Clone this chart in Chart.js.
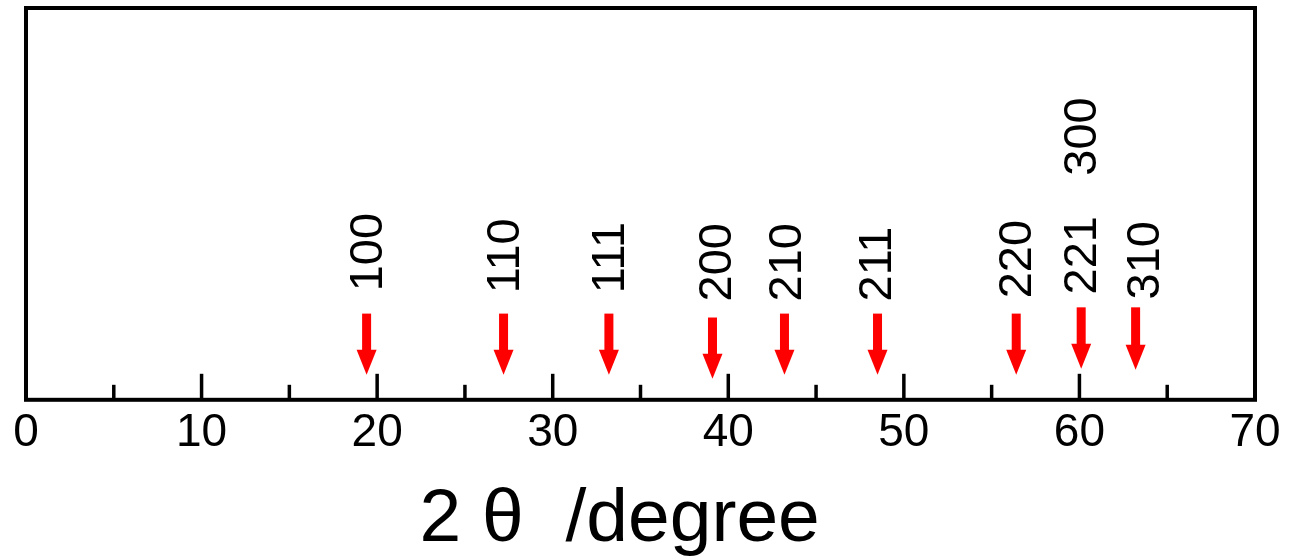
<!DOCTYPE html>
<html>
<head>
<meta charset="utf-8">
<script src="https://cdn.jsdelivr.net/npm/chart.js@4"></script>
<style>
  html, body { margin: 0; padding: 0; background: #fff; }
  #wrap { width: 1291px; height: 558px; }
</style>
</head>
<body>
<div id="wrap"><canvas id="xrdChart"></canvas></div>
<script>
// peak positions (2 theta) and arrow extents (y in % of plot height)
const peakPos = [19.4, 27.2, 33.2, 39.1, 43.2, 48.5, 56.4, 60.1, 63.2];
const arrowTop = [22, 22, 22, 21, 22, 22, 22, 23.6, 23.6];
const arrowTip = [6.4, 6.4, 6.4, 5.4, 6.4, 6.4, 6.4, 7.9, 7.7];

// Miller index labels
const hklText = ['100', '110', '111', '200', '210', '211', '220', '221', '300', '310'];
const hklX = [19.4, 27.2, 33.2, 39.3, 43.3, 48.4, 56.4, 60.1, 60.1, 63.7];
const hklY = [27.7, 27.2, 27.2, 25.1, 25.1, 25.1, 25.9, 26.9, 57.2, 25.6];

const xTicks = [0, 10, 20, 30, 40, 50, 60, 70];

const FONT = '"Liberation Sans", Arial, Helvetica, sans-serif';

const xrdPlugin = {
  id: 'xrdDecor',
  afterDraw(chart) {
    const ctx = chart.ctx;
    const area = chart.chartArea;
    const xs = chart.scales.x;
    const ys = chart.scales.y;
    ctx.save();

    // frame
    ctx.strokeStyle = '#000';
    ctx.lineWidth = 4;
    ctx.strokeRect(area.left, area.top, area.right - area.left, area.bottom - area.top);

    // inward ticks, long at 10s, short at 5s
    ctx.lineWidth = 3.5;
    for (let v = 5; v < 70; v += 5) {
      const px = xs.getPixelForValue(v);
      const len = v % 10 === 0 ? 26 : 15;
      ctx.beginPath();
      ctx.moveTo(px, area.bottom);
      ctx.lineTo(px, area.bottom - len);
      ctx.stroke();
    }

    // arrows
    ctx.fillStyle = '#ff0000';
    for (let i = 0; i < peakPos.length; i++) {
      const px = xs.getPixelForValue(peakPos[i]);
      const top = ys.getPixelForValue(arrowTop[i]);
      const tip = ys.getPixelForValue(arrowTip[i]);
      const headLen = 25;
      ctx.fillRect(px - 4.5, top, 9, tip - top - headLen + 2);
      ctx.beginPath();
      ctx.moveTo(px - 10, tip - headLen);
      ctx.lineTo(px + 10, tip - headLen);
      ctx.lineTo(px, tip);
      ctx.closePath();
      ctx.fill();
    }

    // rotated labels
    ctx.fillStyle = '#000';
    ctx.font = '47px ' + FONT;
    ctx.textAlign = 'left';
    ctx.textBaseline = 'middle';
    for (let i = 0; i < hklText.length; i++) {
      const px = xs.getPixelForValue(hklX[i]);
      const py = ys.getPixelForValue(hklY[i]);
      ctx.save();
      ctx.translate(px, py);
      ctx.rotate(-Math.PI / 2);
      ctx.fillText(hklText[i], 0, 2);
      ctx.restore();
    }
    ctx.restore();
  }
};

new Chart(document.getElementById('xrdChart').getContext('2d'), {
  type: 'scatter',
  data: {
    datasets: [{
      data: peakPos.map((p, i) => ({ x: p, y: arrowTop[i] })),
      pointRadius: 0,
      showLine: false
    }]
  },
  options: {
    responsive: true,
    maintainAspectRatio: false,
    animation: false,
    layout: { padding: { left: 26, right: 36, top: 8, bottom: 0 } },
    plugins: { legend: { display: false }, tooltip: { enabled: false } },
    scales: {
      x: {
        type: 'linear',
        min: 0,
        max: 70,
        afterBuildTicks(scale) {
          scale.ticks = xTicks.map(v => ({ value: v }));
        },
        grid: { display: false },
        border: { display: false },
        ticks: {
          color: '#000',
          font: { family: FONT, size: 46 },
          padding: -2,
          maxRotation: 0
        },
        title: {
          display: true,
          text: '2 θ  /degree  ',
          color: '#000',
          font: { family: FONT, size: 75 },
          padding: { top: 16, bottom: -7 }
        }
      },
      y: {
        display: false,
        min: 0,
        max: 100
      }
    }
  },
  plugins: [xrdPlugin]
});
</script>
</body>
</html>
